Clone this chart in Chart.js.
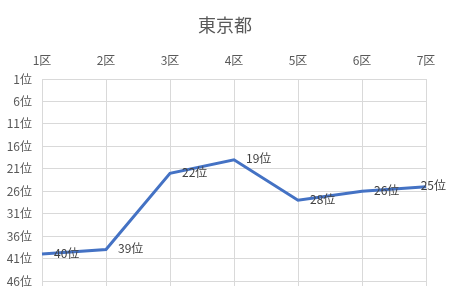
<!DOCTYPE html>
<html>
<head>
<meta charset="utf-8">
<script src="https://cdn.jsdelivr.net/npm/chart.js@4.4.1/dist/chart.umd.min.js"></script>
<style>
  html, body { margin: 0; padding: 0; background: #fff; }
  #wrap { width: 450px; height: 301px; }
</style>
</head>
<body>
<div id="wrap"><canvas id="chart" width="450" height="301"></canvas></div>
<script>
// データ
const chartTitle = '東京都';
const sections = ['1区', '2区', '3区', '4区', '5区', '6区', '7区'];
const ranks = [40, 39, 22, 19, 28, 26, 25];
const rankTicks = [1, 6, 11, 16, 21, 26, 31, 36, 41, 46];

const FONT = '"Noto Sans CJK JP", "Noto Sans", sans-serif';
const GRID = '#d9d9d9';

// タイトル（キャンバス中央）
const centerTitle = {
    id: 'centerTitle',
    afterDraw(chart) {
        const ctx = chart.ctx;
        ctx.save();
        ctx.font = '18px ' + FONT;
        ctx.fillStyle = '#595959';
        ctx.textAlign = 'center';
        ctx.textBaseline = 'middle';
        ctx.fillText(chartTitle, chart.width / 2, 25);
        ctx.restore();
    }
};

// 順位ラベル（点の右側、はみ出す場合は左へ寄せる）
const rankLabels = {
    id: 'rankLabels',
    afterDatasetsDraw(chart) {
        const ctx = chart.ctx;
        const meta = chart.getDatasetMeta(0);
        ctx.save();
        ctx.font = '12px ' + FONT;
        ctx.fillStyle = '#404040';
        ctx.textAlign = 'left';
        ctx.textBaseline = 'middle';
        meta.data.forEach((pt, i) => {
            const txt = ranks[i] + '位';
            const w = ctx.measureText(txt).width;
            let x = pt.x + 12;
            if (x + w > chart.width - 4) x = chart.width - 4 - w;
            ctx.fillText(txt, x, pt.y - 1);
        });
        ctx.restore();
    }
};

// 下端の目盛り線
const bottomTicks = {
    id: 'bottomTicks',
    beforeDatasetsDraw(chart) {
        const ctx = chart.ctx;
        const x = chart.scales.x;
        const bottom = chart.chartArea.bottom;
        ctx.save();
        ctx.strokeStyle = GRID;
        ctx.lineWidth = 1;
        x.ticks.forEach((t, i) => {
            const px = Math.round(x.getPixelForTick(i)) + 0.5;
            ctx.beginPath();
            ctx.moveTo(px, bottom);
            ctx.lineTo(px, bottom + 5);
            ctx.stroke();
        });
        ctx.restore();
    }
};

new Chart(document.getElementById('chart'), {
    type: 'line',
    data: {
        labels: sections,
        datasets: [{
            data: ranks,
            borderColor: '#4472C4',
            borderWidth: 3,
            pointRadius: 0,
            tension: 0,
            fill: false
        }]
    },
    options: {
        responsive: false,
        animation: false,
        layout: { padding: { left: 0, right: 24, top: 45, bottom: 20 } },
        plugins: {
            legend: { display: false },
            tooltip: { enabled: false },
            title: { display: false }
        },
        scales: {
            x: {
                position: 'top',
                offset: false,
                grid: { color: GRID, drawTicks: false, offset: false },
                border: { color: GRID },
                ticks: {
                    color: '#595959',
                    font: { family: FONT, size: 12 },
                    padding: 11,
                    maxRotation: 0
                },
                afterFit(scale) { scale.height = 34; }
            },
            y: {
                reverse: true,
                min: 1,
                max: 46,
                grid: { color: GRID, drawTicks: false },
                border: { color: GRID },
                afterBuildTicks(scale) {
                    scale.ticks = rankTicks.map(v => ({ value: v }));
                },
                ticks: {
                    color: '#595959',
                    font: { family: FONT, size: 12 },
                    padding: 10,
                    callback: v => v + '位'
                },
                afterFit(scale) { scale.width = 42; }
            }
        }
    },
    plugins: [centerTitle, rankLabels, bottomTicks]
});
</script>
</body>
</html>
